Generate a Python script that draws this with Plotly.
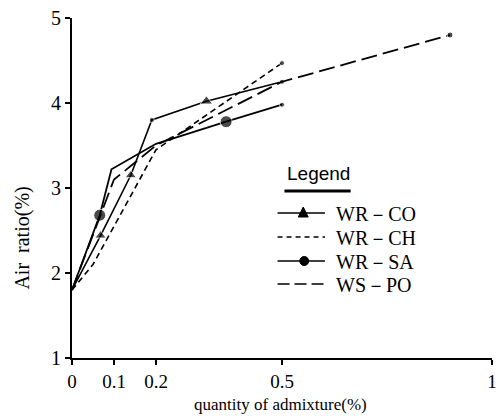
import plotly.graph_objects as go

# data
co_x = [0, 0.068, 0.14, 0.19, 0.32, 0.5]
co_y = [1.8, 2.44, 3.15, 3.8, 4.02, 4.25]
co_sym = ["circle", "triangle-up", "triangle-up", "circle", "triangle-up", "circle"]
co_size = [0, 10, 10, 5, 11, 5]

ch_x = [0, 0.05, 0.2, 0.5]
ch_y = [1.8, 2.1, 3.45, 4.47]

sa_x = [0, 0.066, 0.094, 0.2, 0.367, 0.5]
sa_y = [1.8, 2.68, 3.22, 3.52, 3.78, 3.98]
sa_size = [0, 12, 0, 0, 12, 5]

po_x = [0, 0.1, 0.2, 0.5, 0.9]
po_y = [1.8, 3.1, 3.5, 4.25, 4.8]

x_ticks = [0, 0.1, 0.2, 0.5, 1]
x_labels = ["0", "0.1", "0.2", "0.5", "1"]
y_ticks = [1, 2, 3, 4, 5]

names = ["WR－CO", "WR－CH", "WR－SA", "WS－PO"]

K = "black"
serif = "Liberation Serif, DejaVu Serif, serif"

# layout geometry (pixels)
L, R, T, B, W, H = 72, 3, 18, 61, 500, 419
PW, PH = W - L - R, H - T - B


def px(xp):
    return (xp - L) / PW


def py(yp):
    return (H - B - yp) / PH


fig = go.Figure()

fig.add_trace(go.Scatter(x=co_x, y=co_y, mode="lines+markers", name=names[0],
                         line=dict(color=K, width=1.6),
                         marker=dict(symbol=co_sym, size=co_size, color=K)))
fig.add_trace(go.Scatter(x=ch_x, y=ch_y, mode="lines+markers", name=names[1],
                         line=dict(color=K, width=1.6, dash="6px,4px"),
                         marker=dict(size=[0, 0, 0, 5], color=K)))
fig.add_trace(go.Scatter(x=sa_x, y=sa_y, mode="lines+markers", name=names[2],
                         line=dict(color=K, width=1.8),
                         marker=dict(size=sa_size, color=K)))
fig.add_trace(go.Scatter(x=po_x, y=po_y, mode="lines+markers", name=names[3],
                         line=dict(color=K, width=1.8, dash="16px,6px"),
                         marker=dict(size=[0, 0, 0, 0, 6], color=K)))

# hand-drawn legend (decoration in paper coordinates)
rows = [213, 237, 261, 284]
dashes = ["solid", "5px,4px", "solid", "12px,5px"]
shapes = [dict(type="line", xref="paper", yref="paper", x0=px(287), x1=px(354),
               y0=py(191), y1=py(191), line=dict(color=K, width=3))]
annotations = [
    dict(text="Air  ratio(%)", xref="paper", yref="paper", x=px(22), y=py(238),
         xanchor="center", yanchor="middle",
         showarrow=False, textangle=-90, font=dict(family=serif, size=20, color=K)),
    dict(text="quantity of admixture(%)", xref="paper", yref="paper", x=px(283), y=py(404),
         xanchor="center", showarrow=False, yanchor="middle",
         font=dict(family=serif, size=17, color=K)),
    dict(text="Legend", xref="paper", yref="paper", x=px(321), y=py(173),
         xanchor="center", showarrow=False, yanchor="middle",
         font=dict(family="Liberation Sans, Arial, sans-serif", size=19, color=K)),
]
for i, (ry, d) in enumerate(zip(rows, dashes)):
    shapes.append(dict(type="line", xref="paper", yref="paper", x0=px(280), x1=px(328),
                       y0=py(ry), y1=py(ry), line=dict(color=K, width=1.7, dash=d)))
    annotations.append(dict(text=names[i], xref="paper", yref="paper", x=px(337), y=py(ry + 1),
                            xanchor="left", yanchor="middle", showarrow=False,
                            font=dict(family=serif, size=20, color=K)))
# triangle marker for WR-CO
cx, cy = 306, rows[0]
shapes.append(dict(type="path", xref="paper", yref="paper",
                   path=f"M {px(cx-5)},{py(cy+4)} L {px(cx+5)},{py(cy+4)} L {px(cx)},{py(cy-6)} Z",
                   fillcolor=K, line=dict(color=K, width=1)))
# circle marker for WR-SA
cx, cy = 307, rows[2]
shapes.append(dict(type="circle", xref="paper", yref="paper",
                   x0=px(cx-4.5), x1=px(cx+4.5), y0=py(cy+4.5), y1=py(cy-4.5),
                   fillcolor=K, line=dict(color=K, width=1)))

fig.update_layout(
    width=W, height=H,
    margin=dict(l=L, r=R, t=T, b=B),
    paper_bgcolor="white", plot_bgcolor="white",
    font=dict(family=serif, color=K, size=16),
    showlegend=False,
    xaxis=dict(range=[0, 1], tickvals=x_ticks, ticktext=x_labels,
               showgrid=False, zeroline=False, showline=True, linecolor=K, linewidth=2,
               ticks="outside", ticklen=5, tickcolor=K, tickwidth=1.5,
               ticklabeloverflow="allow",
               tickfont=dict(family=serif, size=19, color=K)),
    yaxis=dict(range=[1, 5], tickvals=y_ticks,
               showgrid=False, zeroline=False, showline=True, linecolor=K, linewidth=2,
               ticks="outside", ticklen=5, tickcolor=K, tickwidth=1.5,
               tickfont=dict(family=serif, size=20, color=K)),
    annotations=annotations,
    shapes=shapes,
)

fig.write_html("out.html")
